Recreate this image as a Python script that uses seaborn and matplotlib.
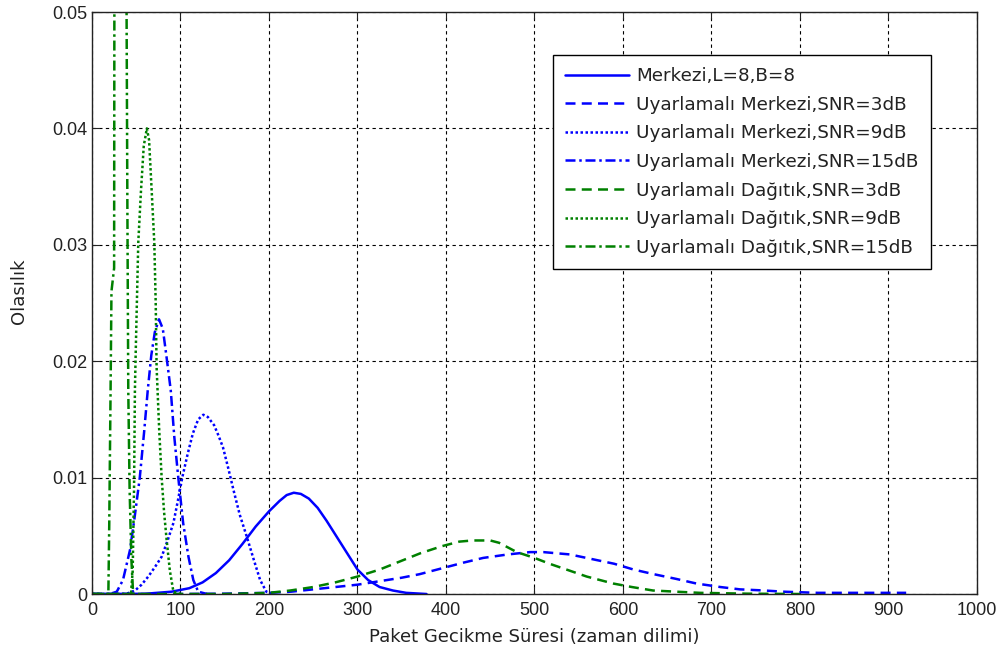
import pandas as pd
import matplotlib
matplotlib.use("Agg")
import matplotlib.pyplot as plt
import seaborn as sns

# Merkezi, L=8, B=8
mk_x = [0, 60, 90, 110, 125, 140, 155, 170, 185, 200, 212, 220, 228, 236, 245, 255, 265,
        275, 285, 300, 312, 325, 340, 355, 378]
mk_y = [0, 0.00002, 0.0002, 0.0005, 0.0010, 0.0018, 0.0029, 0.0043, 0.0058, 0.0071, 0.0080,
        0.0085, 0.0087, 0.0086, 0.0082, 0.0074, 0.0063, 0.0051, 0.0039, 0.0021, 0.0012,
        0.0006, 0.0003, 0.0001, 0.0]

# Uyarlamali Merkezi SNR=3dB
um3_x = [0, 100, 150, 200, 225, 250, 275, 300, 325, 350, 370, 395, 420, 442, 470, 495, 510,
         525, 540, 565, 590, 612, 635, 660, 683, 710, 732, 760, 781, 820, 870, 920]
um3_y = [0, 0, 0.00003, 0.0001, 0.0002, 0.0004, 0.0006, 0.0008, 0.0011, 0.0014, 0.0017,
         0.0022, 0.0027, 0.0031, 0.0034, 0.0036, 0.0036, 0.0035, 0.0034, 0.0030, 0.0026,
         0.0021, 0.0017, 0.0013, 0.0009, 0.0006, 0.0004, 0.0003, 0.0002, 0.0001, 0.0001,
         0.0001]

# Uyarlamali Merkezi SNR=9dB
um9_x = [0, 30, 40, 48.6, 56, 63.6, 71, 78.7, 85, 92, 97, 102, 108, 114, 120, 125.8, 131,
         138, 143, 148, 154, 160, 167, 175, 183, 190, 197, 205]
um9_y = [0, 0, 0.00005, 0.0003, 0.0008, 0.0015, 0.0023, 0.0032, 0.0045, 0.0061, 0.0080,
         0.0100, 0.0120, 0.0138, 0.0150, 0.0154, 0.0152, 0.0145, 0.0136, 0.0126, 0.0108,
         0.0089, 0.0068, 0.0049, 0.0029, 0.0012, 0.0002, 0]

# Uyarlamali Merkezi SNR=15dB
um15_x = [0, 20, 28, 35, 43, 48, 54, 59, 63, 67, 71, 75.7, 80, 84, 89, 93, 97.5, 103, 109,
          114.5, 120, 130]
um15_y = [0, 0, 0.0002, 0.0012, 0.0038, 0.0065, 0.0100, 0.0140, 0.0175, 0.0205, 0.0225,
          0.0236, 0.0228, 0.0205, 0.0175, 0.0135, 0.0100, 0.0061, 0.0032, 0.0012, 0.0002, 0]

# Uyarlamali Dagitik SNR=3dB
ud3_x = [0, 150, 200, 224, 250, 275, 300, 325, 348, 371, 395, 415, 430, 450, 460, 480, 500,
         517, 540, 559, 589, 610, 634, 660, 687, 740, 800]
ud3_y = [0, 0, 0.0001, 0.0003, 0.0006, 0.0010, 0.0015, 0.0021, 0.0028, 0.0035, 0.0041,
         0.0045, 0.0046, 0.0046, 0.0044, 0.0036, 0.0031, 0.0026, 0.0020, 0.0015, 0.0009,
         0.0006, 0.0003, 0.0002, 0.0001, 0.00003, 0]

# Uyarlamali Dagitik SNR=9dB
ud9_x = [0, 35, 44, 46, 47.5, 48.5, 49.3, 52.3, 55.4, 58.5, 62, 64.5, 67.4, 70.4, 72, 73,
         76, 78.7, 81.5, 84.4, 88, 92, 100]
ud9_y = [0, 0, 0, 0.002, 0.009, 0.0175, 0.0204, 0.0302, 0.0347, 0.0385, 0.0400, 0.0390,
         0.0347, 0.0302, 0.0250, 0.0195, 0.0140, 0.0100, 0.0070, 0.0046, 0.0020, 0.0002, 0]

# Uyarlamali Dagitik SNR=15dB (peak runs off the top of the axes)
ud15_x = [0, 15, 18.5, 19.5, 21, 22, 25, 25.8, 32, 38, 40, 41, 42.5, 44.5, 46.5, 55]
ud15_y = [0, 0, 0, 0.006, 0.0175, 0.026, 0.028, 0.09, 0.11, 0.07, 0.033, 0.0175, 0.009,
          0.003, 0, 0]

labels = ["Merkezi,L=8,B=8",
          "Uyarlamalı Merkezi,SNR=3dB",
          "Uyarlamalı Merkezi,SNR=9dB",
          "Uyarlamalı Merkezi,SNR=15dB",
          "Uyarlamalı Dağıtık,SNR=3dB",
          "Uyarlamalı Dağıtık,SNR=9dB",
          "Uyarlamalı Dağıtık,SNR=15dB"]

x_ticks = list(range(0, 1001, 100))
y_ticks = [0, 0.01, 0.02, 0.03, 0.04, 0.05]
y_ticklabels = ["0", "0.01", "0.02", "0.03", "0.04", "0.05"]

sns.set_style("ticks")
plt.rcParams['font.family'] = ['Liberation Sans', 'DejaVu Sans']
txt = "#222222"

fig = plt.figure(figsize=(10.01, 6.56), dpi=100)
ax = fig.add_axes([0.0919, 0.0945, 0.8841, 0.8872])

series = [(mk_x, mk_y, "blue", "-"),
          (um3_x, um3_y, "blue", (0, (4, 2.5))),
          (um9_x, um9_y, "blue", (0, (1, 1))),
          (um15_x, um15_y, "blue", (0, (4, 1.5, 1, 1.5))),
          (ud3_x, ud3_y, "#008000", (0, (4, 2.5))),
          (ud9_x, ud9_y, "#008000", (0, (1, 1))),
          (ud15_x, ud15_y, "#008000", (0, (4, 1.5, 1, 1.5)))]

for (xs, ys, col, ls), lab in zip(series, labels):
    df = pd.DataFrame({"x": xs, "y": ys})
    sns.lineplot(data=df, x="x", y="y", ax=ax, color=col, linestyle=ls,
                 linewidth=1.8, label=lab, estimator=None, sort=False)

ax.set_xlim(0, 1000)
ax.set_ylim(0, 0.05)
ax.set_xticks(x_ticks)
ax.set_yticks(y_ticks)
ax.set_yticklabels(y_ticklabels)
ax.grid(True, color="k", linestyle=(0, (3, 3)), linewidth=0.8)
ax.tick_params(direction="in", top=True, right=True, length=5, width=0.8,
               labelsize=13, colors=txt)
ax.tick_params(axis="x", pad=6)
for s in ax.spines.values():
    s.set_color(txt)
    s.set_linewidth(1.0)

ax.set_xlabel("Paket Gecikme Süresi (zaman dilimi)", fontsize=13, color=txt,
              family="DejaVu Sans", labelpad=6)
ax.set_ylabel("Olasılık", fontsize=13, color=txt, family="DejaVu Sans")
ax.yaxis.set_label_coords(-0.0723, 0.52)

leg = ax.legend(loc="upper left", bbox_to_anchor=(0.521, 0.926),
                prop={"family": "DejaVu Sans", "size": 13.2},
                frameon=True, fancybox=False, edgecolor="k", framealpha=1,
                handlelength=3.5, handletextpad=0.4, labelspacing=0.58,
                borderaxespad=0, borderpad=0.65)
leg.get_frame().set_linewidth(1.0)
for t in leg.get_texts():
    t.set_color(txt)

fig.savefig("out.png", dpi=100)
